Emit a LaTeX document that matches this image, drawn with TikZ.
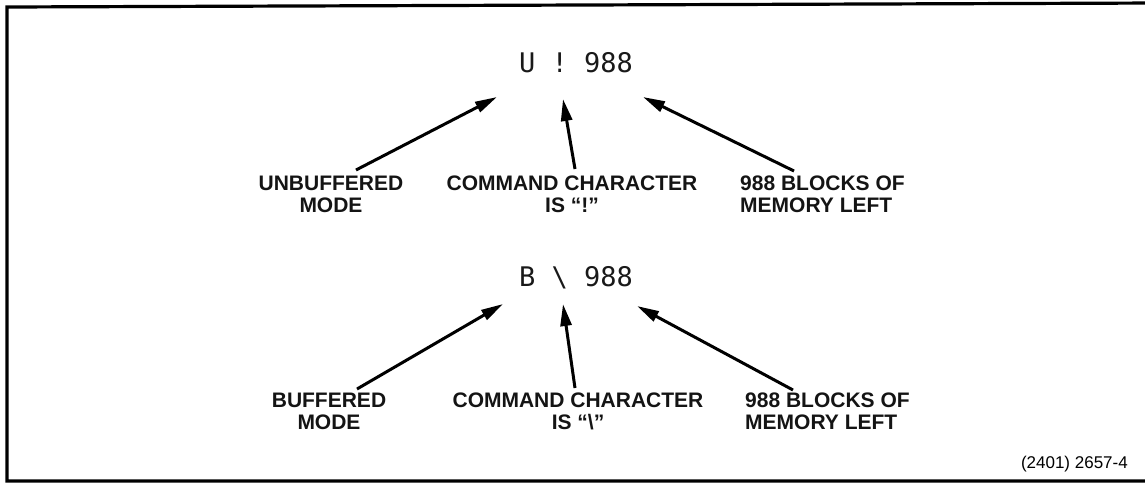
\documentclass[tikz,border=0pt]{standalone}
\usepackage{fontspec}
\setmainfont{Liberation Sans}
\newfontfamily\dispfont{DejaVu Sans Mono}
\usetikzlibrary{arrows.meta}
\tikzset{
  lbl/.style={font=\fontsize{21}{22}\selectfont\bfseries, align=center, inner sep=0pt, text=black!92},
  lblL/.style={lbl, align=left},
  disp/.style={font=\dispfont\fontsize{27}{28}\selectfont, inner sep=0pt, text=black!90},
  ptr/.style={line width=3pt, -{Triangle[length=22pt,width=11pt]}},
  frame/.style={line width=3.2pt, line join=miter},
}
\begin{document}
\begin{tikzpicture}[x=1pt,y=-1pt]
\useasboundingbox (0,0) rectangle (1145,483);
\draw[frame] (1160,3) -- (7,7) -- (7,481) -- (1160,481);

% row 1
\node[disp] (d1) at (576,63) {U ! 988};
\coordinate (t1a) at (497,97);
\coordinate (t1b) at (563,99);
\coordinate (t1c) at (643,97);
\node[lbl] (l1a) at (331,194) {UNBUFFERED\\MODE};
\node[lbl] (l1b) at (572,194) {COMMAND CHARACTER\\IS “!”};
\node[lblL, anchor=west] (l1c) at (740,194) {988 BLOCKS OF\\MEMORY LEFT};
\coordinate (s1a) at (356,170);
\coordinate (s1b) at (575,169);
\coordinate (s1c) at (794,171);
\draw[ptr] (s1a) -- (t1a);
\draw[ptr] (s1b) -- (t1b);
\draw[ptr] (s1c) -- (t1c);

% row 2
\node[disp] (d2) at (576,278) {B \textbackslash{} 988};
\coordinate (t2a) at (503,304);
\coordinate (t2b) at (563,304);
\coordinate (t2c) at (637,306);
\node[lbl] (l2a) at (329,411) {BUFFERED\\MODE};
\node[lbl] (l2b) at (578,411) {COMMAND CHARACTER\\IS “\textbackslash”};
\node[lblL, anchor=west] (l2c) at (745,411) {988 BLOCKS OF\\MEMORY LEFT};
\coordinate (s2a) at (357,389);
\coordinate (s2b) at (575,388);
\coordinate (s2c) at (793,390);
\draw[ptr] (s2a) -- (t2a);
\draw[ptr] (s2b) -- (t2b);
\draw[ptr] (s2c) -- (t2c);

\node[font=\fontsize{17}{18}\selectfont, anchor=east, inner sep=0pt] (ref) at (1128,464) {(2401) 2657-4};
\end{tikzpicture}
\end{document}
